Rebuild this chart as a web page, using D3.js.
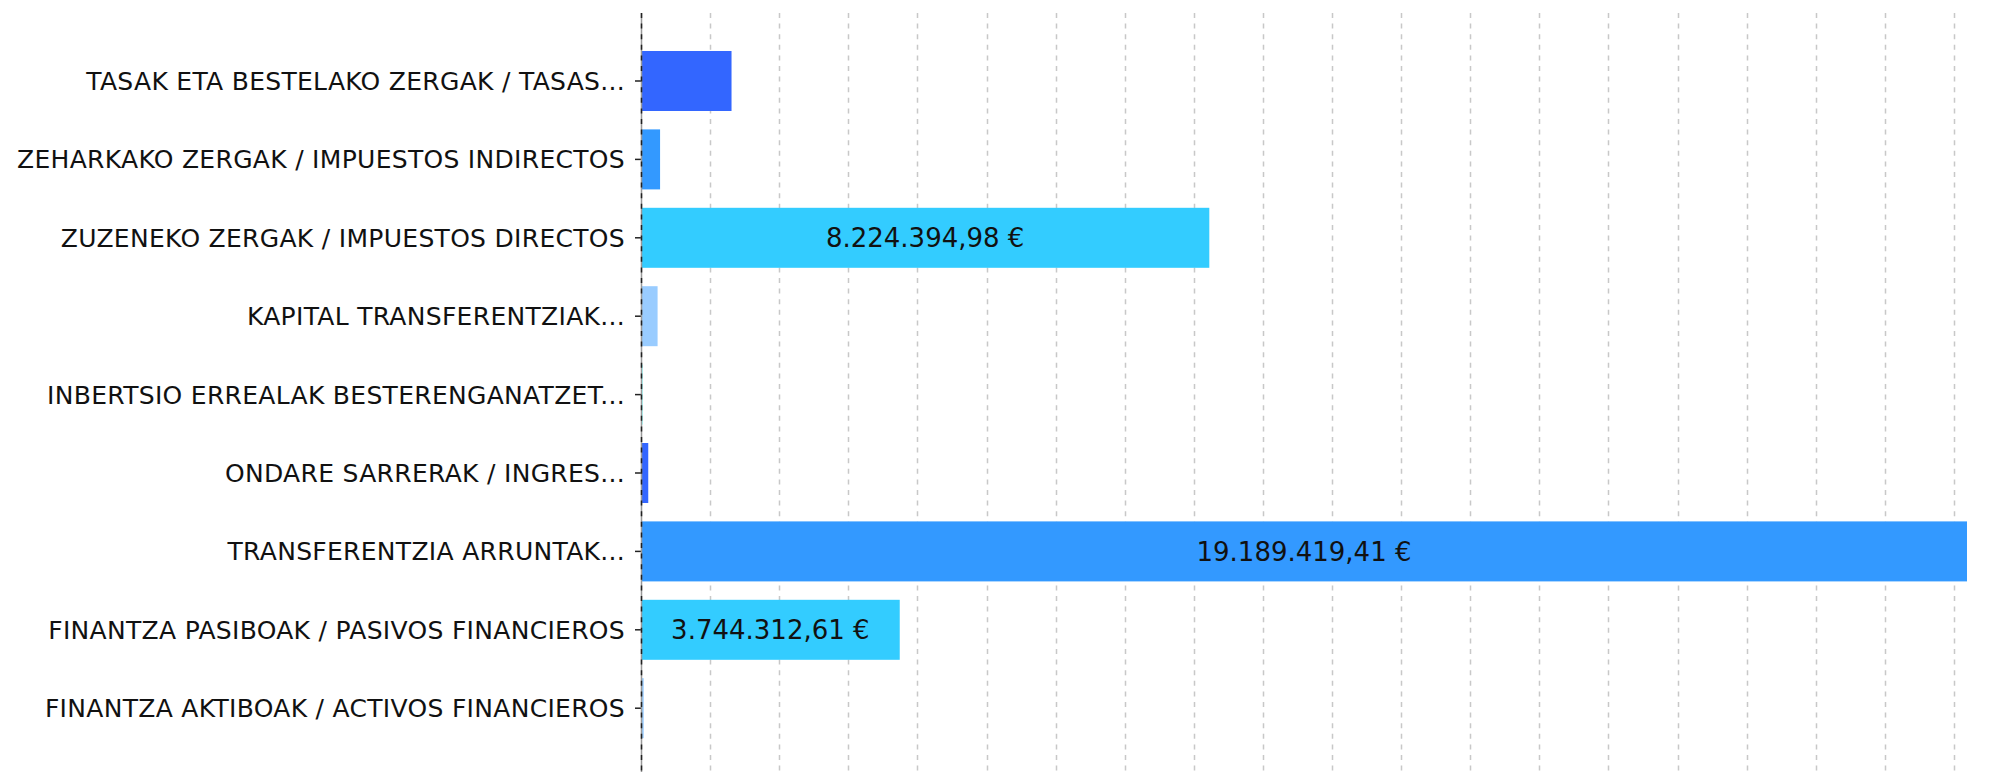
<!DOCTYPE html>
<html>
<head>
<meta charset="utf-8">
<script src="https://cdn.jsdelivr.net/npm/d3@7"></script>
<style>
    body { margin: 0; background: #fff; }
    #mainSvg { display: block; }
</style>
</head>
<body>
<svg id="mainSvg" width="2008" height="772"></svg>
<script>
// Category labels as they appear (already cut by the source chart)
let categories = [
    "TASAK ETA BESTELAKO ZERGAK / TASAS...",
    "ZEHARKAKO ZERGAK / IMPUESTOS INDIRECTOS",
    "ZUZENEKO ZERGAK / IMPUESTOS DIRECTOS",
    "KAPITAL TRANSFERENTZIAK...",
    "INBERTSIO ERREALAK BESTERENGANATZET...",
    "ONDARE SARRERAK / INGRES...",
    "TRANSFERENTZIA ARRUNTAK...",
    "FINANTZA PASIBOAK / PASIVOS FINANCIEROS",
    "FINANTZA AKTIBOAK / ACTIVOS FINANCIEROS",
];

// Amounts in euros (small ones)
let values = [
    1310000.0, 276000.0, 8224394.98, 240000.0, 15000.0,
    105000.0, 19189419.41, 3744312.61, 39000.0,
];

let palette = ["#3366FF", "#3399FF", "#33CCFF", "#99CCFF", "#66FFFF"];

// grid every million euros
let tickStep = 1000000;

let x0 = 641;
let x1 = 1967;
let gridTop = 13;
let gridBottom = 772;

let data = categories.map((c, i) => ({ name: c, value: values[i], i: i }));

let x = d3.scaleLinear().domain([0, d3.max(values)]).range([x0, x1]);

let y = d3
    .scaleBand()
    .domain(categories)
    .range([41.8, 747.4])
    .paddingInner(0.2347)
    .paddingOuter(0.1173);

let fmt = function (v) {
    let s = d3.format(",.2f")(v);
    // 1,234.56 -> 1.234,56
    s = s.replace(/,/g, "#").replace(".", ",").replace(/#/g, ".");
    return s + " €";
};

let svg = d3.select("#mainSvg");

// dashed vertical grid
let ticks = d3.range(tickStep, d3.max(values), tickStep);
svg.append("g")
    .selectAll("line")
    .data(ticks)
    .join("line")
    .attr("x1", (d) => Math.round(x(d)) + 0.5)
    .attr("x2", (d) => Math.round(x(d)) + 0.5)
    .attr("y1", gridTop)
    .attr("y2", gridBottom)
    .attr("stroke", "#c8c8c8")
    .attr("stroke-width", 1.5)
    .attr("stroke-dasharray", "5,5.6");

// bars
svg.append("g")
    .selectAll("rect")
    .data(data)
    .join("rect")
    .attr("x", x0)
    .attr("y", (d) => y(d.name))
    .attr("width", (d) => Math.max(1.5, x(d.value) - x0))
    .attr("height", y.bandwidth())
    .attr("fill", (d) => palette[d.i % palette.length]);

// y axis
let yAxis = svg
    .append("g")
    .attr("transform", "translate(" + x0 + ",0)")
    .call(d3.axisLeft(y).tickSize(6).tickPadding(10).tickSizeOuter(0));

yAxis.select(".domain").remove();
yAxis.selectAll(".tick line").attr("stroke", "#222").attr("stroke-width", 1.5);
yAxis
    .selectAll(".tick text")
    .attr("fill", "#111")
    .attr("font-family", "DejaVu Sans")
    .attr("font-size", 25)
    .attr("letter-spacing", "0.3px")
    .attr("dy", "0.36em");

// axis line: grey solid with dark dashes on top
svg.append("line")
    .attr("x1", x0 + 0.5)
    .attr("x2", x0 + 0.5)
    .attr("y1", gridTop)
    .attr("y2", gridBottom)
    .attr("stroke", "#999")
    .attr("stroke-width", 1.5);
svg.append("line")
    .attr("x1", x0 + 0.5)
    .attr("x2", x0 + 0.5)
    .attr("y1", gridTop)
    .attr("y2", gridBottom)
    .attr("stroke", "#222")
    .attr("stroke-width", 1.5)
    .attr("stroke-dasharray", "5,5.6");

// value labels, only where they fit inside the bar
let labels = svg
    .append("g")
    .selectAll("text")
    .data(data)
    .join("text")
    .attr("x", (d) => (x0 + x(d.value)) / 2)
    .attr("y", (d) => y(d.name) + y.bandwidth() / 2)
    .attr("dy", "0.36em")
    .attr("text-anchor", "middle")
    .attr("font-family", "DejaVu Sans")
    .attr("font-size", 26)
    .attr("fill", "#111")
    .text((d) => fmt(d.value));

labels.each(function (d) {
    let w = this.getComputedTextLength();
    if (w + 20 > x(d.value) - x0) {
        d3.select(this).remove();
    }
});
</script>
</body>
</html>
